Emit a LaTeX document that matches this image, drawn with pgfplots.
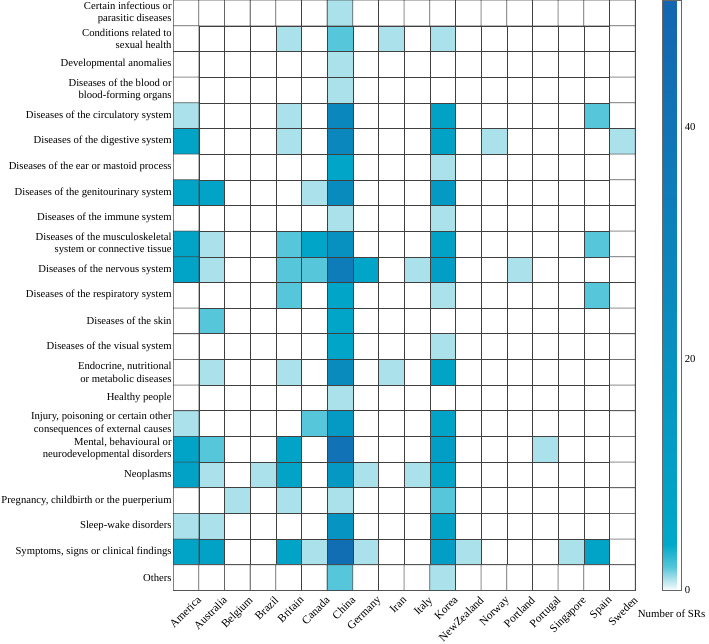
\documentclass[border=0pt]{standalone}
\usepackage{fontspec}
\setmainfont{Liberation Serif}
\usepackage{pgfplots}
\pgfplotsset{compat=1.18}
\begin{document}
\fontsize{10.8}{13}\selectfont
\begin{tikzpicture}
\begin{axis}[
  scale only axis, width=468pt, height=598pt,
  xmin=-0.5, xmax=17.5, ymin=-0.5, ymax=22.5, y dir=reverse,
  axis line style={draw=black!80},
  tick style={draw=none},
  /pgf/number format/assume math mode=true,
  xtick={0,...,17},
  xticklabels={America,Australia,Belgium,Brazil,Britain,Canada,China,Germany,Iran,Italy,Korea,NewZealand,Norway,Portland,Portugal,Singapore,Spain,Sweden},
  xticklabel style={rotate=45, anchor=north east, font=\fontsize{11.5}{13}\selectfont, inner sep=1pt, xshift=5pt, yshift=-10pt},
  ytick={0,...,22},
  yticklabels={
    {Certain infectious or\\parasitic diseases},
    {Conditions related to\\sexual health},
    {Developmental anomalies},
    {Diseases of the blood or\\blood-forming organs},
    {Diseases of the circulatory system},
    {Diseases of the digestive system},
    {Diseases of the ear or mastoid process},
    {Diseases of the genitourinary system},
    {Diseases of the immune system},
    {Diseases of the musculoskeletal\\system or connective tissue},
    {Diseases of the nervous system},
    {Diseases of the respiratory system},
    {Diseases of the skin},
    {Diseases of the visual system},
    {Endocrine, nutritional\\or metabolic diseases},
    {Healthy people},
    {Injury, poisoning or certain other\\consequences of external causes},
    {Mental, behavioural or\\neurodevelopmental disorders},
    {Neoplasms},
    {Pregnancy, childbirth or the puerperium},
    {Sleep-wake disorders},
    {Symptoms, signs or clinical findings},
    {Others}},
  yticklabel style={align=right, font=\fontsize{10.8}{12.5}\selectfont, inner sep=1.5pt},
  colormap={srs}{rgb255(0)=(255,255,255) rgb255(4)=(218,241,246) rgb255(10)=(171,225,235) rgb255(20)=(86,198,218) rgb255(40)=(0,168,201) rgb255(510)=(21,101,176)},
  point meta min=0, point meta max=51,
  colorbar,
  colorbar style={
    width=19pt,
    at={(parent axis.north east)}, anchor=north west, xshift=19pt,
    ytick={0,20,40},
    yticklabel style={font=\fontsize{10.8}{12}\selectfont},
    /pgf/number format/assume math mode=true,
    axis line style={draw=black!60},
    major tick length=3pt,
    xlabel={Number of SRs},
    xlabel style={font=\fontsize{11}{13}\selectfont, yshift=-16pt},
  },
]
\addplot[matrix plot*, mesh/cols=18, mesh/rows=23, point meta=explicit, draw=black!75, line width=0.6pt] coordinates {
(0,0)[0] (1,0)[0] (2,0)[0] (3,0)[0] (4,0)[0] (5,0)[0] (6,0)[1] (7,0)[0] (8,0)[0] (9,0)[0] (10,0)[0] (11,0)[0] (12,0)[0] (13,0)[0] (14,0)[0] (15,0)[0] (16,0)[0] (17,0)[0]

(0,1)[0] (1,1)[0] (2,1)[0] (3,1)[0] (4,1)[1] (5,1)[0] (6,1)[2] (7,1)[0] (8,1)[1] (9,1)[0] (10,1)[1] (11,1)[0] (12,1)[0] (13,1)[0] (14,1)[0] (15,1)[0] (16,1)[0] (17,1)[0]

(0,2)[0] (1,2)[0] (2,2)[0] (3,2)[0] (4,2)[0] (5,2)[0] (6,2)[1] (7,2)[0] (8,2)[0] (9,2)[0] (10,2)[0] (11,2)[0] (12,2)[0] (13,2)[0] (14,2)[0] (15,2)[0] (16,2)[0] (17,2)[0]

(0,3)[0] (1,3)[0] (2,3)[0] (3,3)[0] (4,3)[0] (5,3)[0] (6,3)[1] (7,3)[0] (8,3)[0] (9,3)[0] (10,3)[0] (11,3)[0] (12,3)[0] (13,3)[0] (14,3)[0] (15,3)[0] (16,3)[0] (17,3)[0]

(0,4)[1] (1,4)[0] (2,4)[0] (3,4)[0] (4,4)[1] (5,4)[0] (6,4)[27] (7,4)[0] (8,4)[0] (9,4)[0] (10,4)[8] (11,4)[0] (12,4)[0] (13,4)[0] (14,4)[0] (15,4)[0] (16,4)[2] (17,4)[0]

(0,5)[7] (1,5)[0] (2,5)[0] (3,5)[0] (4,5)[1] (5,5)[0] (6,5)[27] (7,5)[0] (8,5)[0] (9,5)[0] (10,5)[8] (11,5)[0] (12,5)[1] (13,5)[0] (14,5)[0] (15,5)[0] (16,5)[0] (17,5)[1]

(0,6)[0] (1,6)[0] (2,6)[0] (3,6)[0] (4,6)[0] (5,6)[0] (6,6)[6] (7,6)[0] (8,6)[0] (9,6)[0] (10,6)[1] (11,6)[0] (12,6)[0] (13,6)[0] (14,6)[0] (15,6)[0] (16,6)[0] (17,6)[0]

(0,7)[7] (1,7)[7] (2,7)[0] (3,7)[0] (4,7)[0] (5,7)[1] (6,7)[24] (7,7)[0] (8,7)[0] (9,7)[0] (10,7)[14] (11,7)[0] (12,7)[0] (13,7)[0] (14,7)[0] (15,7)[0] (16,7)[0] (17,7)[0]

(0,8)[0] (1,8)[0] (2,8)[0] (3,8)[0] (4,8)[0] (5,8)[0] (6,8)[1] (7,8)[0] (8,8)[0] (9,8)[0] (10,8)[1] (11,8)[0] (12,8)[0] (13,8)[0] (14,8)[0] (15,8)[0] (16,8)[0] (17,8)[0]

(0,9)[7] (1,9)[1] (2,9)[0] (3,9)[0] (4,9)[2] (5,9)[6] (6,9)[20] (7,9)[0] (8,9)[0] (9,9)[0] (10,9)[8] (11,9)[0] (12,9)[0] (13,9)[0] (14,9)[0] (15,9)[0] (16,9)[2] (17,9)[0]

(0,10)[7] (1,10)[1] (2,10)[0] (3,10)[0] (4,10)[2] (5,10)[2] (6,10)[35] (7,10)[6] (8,10)[0] (9,10)[1] (10,10)[11] (11,10)[0] (12,10)[0] (13,10)[1] (14,10)[0] (15,10)[0] (16,10)[0] (17,10)[0]

(0,11)[0] (1,11)[0] (2,11)[0] (3,11)[0] (4,11)[2] (5,11)[0] (6,11)[6] (7,11)[0] (8,11)[0] (9,11)[0] (10,11)[1] (11,11)[0] (12,11)[0] (13,11)[0] (14,11)[0] (15,11)[0] (16,11)[2] (17,11)[0]

(0,12)[0] (1,12)[2] (2,12)[0] (3,12)[0] (4,12)[0] (5,12)[0] (6,12)[6] (7,12)[0] (8,12)[0] (9,12)[0] (10,12)[0] (11,12)[0] (12,12)[0] (13,12)[0] (14,12)[0] (15,12)[0] (16,12)[0] (17,12)[0]

(0,13)[0] (1,13)[0] (2,13)[0] (3,13)[0] (4,13)[0] (5,13)[0] (6,13)[6] (7,13)[0] (8,13)[0] (9,13)[0] (10,13)[1] (11,13)[0] (12,13)[0] (13,13)[0] (14,13)[0] (15,13)[0] (16,13)[0] (17,13)[0]

(0,14)[0] (1,14)[1] (2,14)[0] (3,14)[0] (4,14)[1] (5,14)[0] (6,14)[24] (7,14)[0] (8,14)[1] (9,14)[0] (10,14)[7] (11,14)[0] (12,14)[0] (13,14)[0] (14,14)[0] (15,14)[0] (16,14)[0] (17,14)[0]

(0,15)[0] (1,15)[0] (2,15)[0] (3,15)[0] (4,15)[0] (5,15)[0] (6,15)[1] (7,15)[0] (8,15)[0] (9,15)[0] (10,15)[0] (11,15)[0] (12,15)[0] (13,15)[0] (14,15)[0] (15,15)[0] (16,15)[0] (17,15)[0]

(0,16)[1] (1,16)[0] (2,16)[0] (3,16)[0] (4,16)[0] (5,16)[2] (6,16)[14] (7,16)[0] (8,16)[0] (9,16)[0] (10,16)[7] (11,16)[0] (12,16)[0] (13,16)[0] (14,16)[0] (15,16)[0] (16,16)[0] (17,16)[0]

(0,17)[7] (1,17)[2] (2,17)[0] (3,17)[0] (4,17)[7] (5,17)[0] (6,17)[42] (7,17)[0] (8,17)[0] (9,17)[0] (10,17)[11] (11,17)[0] (12,17)[0] (13,17)[0] (14,17)[1] (15,17)[0] (16,17)[0] (17,17)[0]

(0,18)[8] (1,18)[1] (2,18)[0] (3,18)[1] (4,18)[7] (5,18)[0] (6,18)[15] (7,18)[1] (8,18)[0] (9,18)[1] (10,18)[7] (11,18)[0] (12,18)[0] (13,18)[0] (14,18)[0] (15,18)[0] (16,18)[0] (17,18)[0]

(0,19)[0] (1,19)[0] (2,19)[1] (3,19)[0] (4,19)[1] (5,19)[0] (6,19)[1] (7,19)[0] (8,19)[0] (9,19)[0] (10,19)[2] (11,19)[0] (12,19)[0] (13,19)[0] (14,19)[0] (15,19)[0] (16,19)[0] (17,19)[0]

(0,20)[1] (1,20)[1] (2,20)[0] (3,20)[0] (4,20)[0] (5,20)[0] (6,20)[17] (7,20)[0] (8,20)[0] (9,20)[0] (10,20)[8] (11,20)[0] (12,20)[0] (13,20)[0] (14,20)[0] (15,20)[0] (16,20)[0] (17,20)[0]

(0,21)[7] (1,21)[8] (2,21)[0] (3,21)[0] (4,21)[7] (5,21)[1] (6,21)[45] (7,21)[1] (8,21)[0] (9,21)[0] (10,21)[11] (11,21)[1] (12,21)[0] (13,21)[0] (14,21)[0] (15,21)[1] (16,21)[7] (17,21)[0]

(0,22)[0] (1,22)[0] (2,22)[0] (3,22)[0] (4,22)[0] (5,22)[0] (6,22)[2] (7,22)[0] (8,22)[0] (9,22)[0] (10,22)[1] (11,22)[0] (12,22)[0] (13,22)[0] (14,22)[0] (15,22)[0] (16,22)[0] (17,22)[0]
};
\end{axis}
\end{tikzpicture}
\end{document}
